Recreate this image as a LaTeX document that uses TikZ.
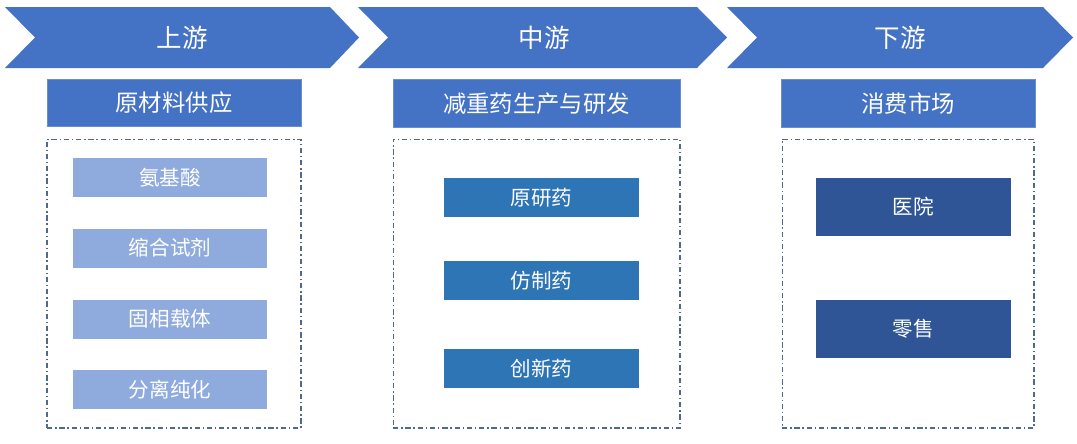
\documentclass[tikz,border=0pt]{standalone}
\usepackage{fontspec}
\newfontfamily\cjk{Noto Sans CJK SC}
\definecolor{arrowblue}{HTML}{4472C4}
\definecolor{rawblue}{HTML}{8FAADC}
\definecolor{midblue}{HTML}{2E75B6}
\definecolor{darkblue}{HTML}{2F5597}
\definecolor{frameline}{HTML}{51698A}

\begin{document}
\begin{tikzpicture}[x=0.02cm,y=-0.02cm,
  stage/.style={text=white,font=\cjk\fontsize{14.5}{17}\selectfont,inner sep=0pt},
  head/.style={fill=arrowblue,draw=arrowblue!80!white,line width=0.4pt,text=white,font=\cjk\fontsize{13.3}{16}\selectfont,minimum height=0.95cm,inner sep=0pt},
  frame/.style={draw=frameline,line width=0.6pt,dash pattern=on 3pt off 1.6pt on 0.8pt off 1.6pt,minimum height=5.78cm,inner sep=0pt},
  item/.style={text=white,font=\cjk\fontsize{11.7}{14}\selectfont,minimum width=3.9cm,inner sep=0pt}]
\useasboundingbox (0,0) rectangle (1077,443);
\fill [arrowblue] (5,7) -- (330,7) -- (359,37.5) -- (330,68) -- (5,68) -- (35,37.5) -- cycle;
\fill [arrowblue] (358,7) -- (697,7) -- (727,37.5) -- (697,68) -- (358,68) -- (388,37.5) -- cycle;
\fill [arrowblue] (727,7) -- (1043,7) -- (1073,37.5) -- (1043,68) -- (727,68) -- (757,37.5) -- cycle;
\node [stage] (up) at (182,37.5) {上游};
\node [stage] (mid) at (544,37.5) {中游};
\node [stage] (down) at (900,37.5) {下游};
\node [head,minimum width=5.08cm] (raw) at (174,103) {原材料供应};
\node [head,minimum width=5.74cm] (make) at (536.5,103.5) {减重药生产与研发};
\node [head,minimum width=5.08cm] (market) at (908,103.5) {消费市场};
\node [frame,minimum width=5.08cm] (rawframe) at (174,283.5) {};
\node [frame,minimum width=5.74cm] (makeframe) at (536.5,283.5) {};
\node [frame,minimum width=5.04cm] (marketframe) at (908,283.5) {};
\node [item,fill=rawblue,minimum height=0.78cm] (amino) at (170,177.5) {氨基酸};
\node [item,fill=rawblue,minimum height=0.78cm] (coupling) at (170,248) {缩合试剂};
\node [item,fill=rawblue,minimum height=0.78cm] (support) at (170,319) {固相载体};
\node [item,fill=rawblue,minimum height=0.78cm] (purify) at (170,389.5) {分离纯化};
\node [item,fill=midblue,minimum height=0.78cm] (original) at (541.5,197.5) {原研药};
\node [item,fill=midblue,minimum height=0.78cm] (generic) at (541.5,280.5) {仿制药};
\node [item,fill=midblue,minimum height=0.78cm] (novel) at (541.5,368.5) {创新药};
\node [item,fill=darkblue,minimum height=1.16cm] (hospital) at (913.5,206.5) {医院};
\node [item,fill=darkblue,minimum height=1.16cm] (retail) at (913.5,329) {零售};
\end{tikzpicture}
\end{document}
